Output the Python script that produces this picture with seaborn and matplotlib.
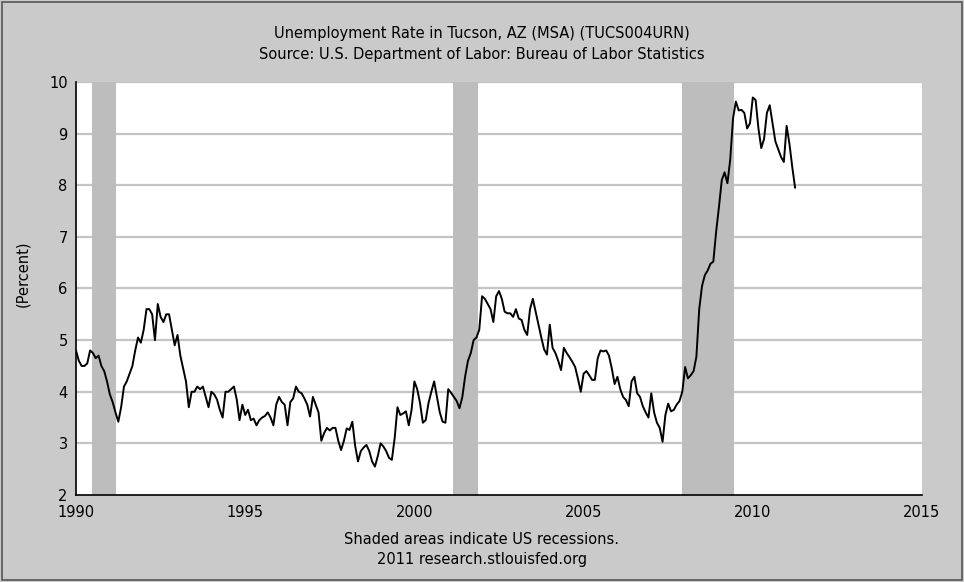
import numpy as np
import pandas as pd
import matplotlib
matplotlib.use("Agg")
import matplotlib.pyplot as plt
import seaborn as sns

# Monthly unemployment rate, Tucson AZ (MSA), Jan 1990 - Apr 2011
rate = [
    # 1990
    4.80, 4.60, 4.50, 4.50, 4.55, 4.80, 4.75, 4.65, 4.70, 4.50, 4.40, 4.20,
    # 1991
    3.95, 3.80, 3.60, 3.42, 3.70, 4.10, 4.20, 4.35, 4.50, 4.80, 5.05, 4.95,
    # 1992
    5.20, 5.60, 5.60, 5.50, 5.00, 5.70, 5.45, 5.35, 5.50, 5.50, 5.20, 4.90,
    # 1993
    5.10, 4.70, 4.45, 4.20, 3.70, 4.00, 4.00, 4.10, 4.05, 4.10, 3.90, 3.70,
    # 1994
    4.00, 3.95, 3.85, 3.65, 3.50, 4.00, 4.00, 4.05, 4.10, 3.85, 3.45, 3.75,
    # 1995
    3.55, 3.65, 3.45, 3.48, 3.35, 3.45, 3.50, 3.53, 3.60, 3.50, 3.35, 3.75,
    # 1996
    3.90, 3.80, 3.75, 3.35, 3.80, 3.87, 4.10, 4.00, 3.97, 3.87, 3.75, 3.52,
    # 1997
    3.90, 3.75, 3.60, 3.05, 3.20, 3.30, 3.25, 3.30, 3.30, 3.05, 2.87, 3.05,
    # 1998
    3.29, 3.26, 3.42, 2.95, 2.65, 2.85, 2.92, 2.97, 2.85, 2.65, 2.55, 2.75,
    # 1999
    3.00, 2.94, 2.85, 2.72, 2.68, 3.10, 3.70, 3.55, 3.58, 3.62, 3.35, 3.65,
    # 2000
    4.20, 4.05, 3.78, 3.40, 3.45, 3.78, 4.00, 4.20, 3.90, 3.60, 3.42, 3.40,
    # 2001
    4.05, 3.98, 3.90, 3.82, 3.68, 3.90, 4.30, 4.60, 4.75, 5.00, 5.05, 5.20,
    # 2002
    5.85, 5.80, 5.70, 5.60, 5.35, 5.85, 5.95, 5.80, 5.55, 5.52, 5.52, 5.45,
    # 2003
    5.60, 5.42, 5.39, 5.20, 5.10, 5.60, 5.80, 5.55, 5.30, 5.05, 4.82, 4.72,
    # 2004
    5.30, 4.85, 4.75, 4.60, 4.42, 4.85, 4.75, 4.67, 4.58, 4.48, 4.25, 4.00,
    # 2005
    4.35, 4.40, 4.32, 4.23, 4.23, 4.65, 4.80, 4.78, 4.80, 4.70, 4.45, 4.15,
    # 2006
    4.29, 4.05, 3.90, 3.84, 3.72, 4.20, 4.29, 3.97, 3.90, 3.72, 3.60, 3.50,
    # 2007
    3.97, 3.60, 3.40, 3.30, 3.03, 3.55, 3.77, 3.62, 3.65, 3.75, 3.82, 4.00,
    # 2008
    4.48, 4.26, 4.32, 4.40, 4.68, 5.60, 6.05, 6.26, 6.35, 6.48, 6.52, 7.10,
    # 2009
    7.58, 8.10, 8.25, 8.04, 8.50, 9.30, 9.62, 9.45, 9.46, 9.40, 9.10, 9.20,
    # 2010
    9.70, 9.65, 9.10, 8.72, 8.90, 9.40, 9.55, 9.20, 8.85, 8.70, 8.55, 8.45,
    # 2011
    9.15, 8.80, 8.35, 7.95,
]

# US recessions (decimal years)
rec_start = [1990.48, 2001.14, 2007.9]
rec_end = [1991.18, 2001.88, 2009.44]

title = "Unemployment Rate in Tucson, AZ (MSA) (TUCS004URN)\nSource: U.S. Department of Labor: Bureau of Labor Statistics"
footer = "Shaded areas indicate US recessions.\n2011 research.stlouisfed.org"

dates = pd.date_range("1990-01-01", periods=len(rate), freq="MS")
df = pd.DataFrame({"year": dates.year + (dates.month - 1) / 12.0, "rate": rate})

sns.set_style("white")
plt.rcParams['font.family'] = ['DejaVu Sans']
plt.rcParams['text.color'] = 'black'

bg = "#cacaca"
fig = plt.figure(figsize=(9.64, 5.82), dpi=100, facecolor=bg)
ax = fig.add_axes([76 / 964, 1 - 495 / 582, (922 - 76) / 964, (495 - 82) / 582])
ax.set_facecolor("white")

for s, e in zip(rec_start, rec_end):
    ax.axvspan(s, e, color="#bdbdbd", lw=0, zorder=1)

for v in range(3, 11):
    ax.axhline(v, color="#c4c4c4", lw=1.6, zorder=0.5)

sns.lineplot(data=df, x="year", y="rate", ax=ax, color="black", lw=1.4, zorder=3)

ax.set_xlim(1990, 2015)
ax.set_ylim(2, 10)
ax.set_xticks(range(1990, 2016, 5))
ax.set_yticks(range(2, 11))
ax.tick_params(direction="in", length=8, width=1, color="black", labelsize=10.5,
               labelcolor="black", pad=6)
ax.tick_params(axis="x", pad=7)
for side in ["top", "right"]:
    ax.spines[side].set_visible(False)
for side in ["left", "bottom"]:
    ax.spines[side].set_color("black")
    ax.spines[side].set_linewidth(1.2)
ax.set_xlabel("")
ax.set_ylabel("")

fig.text(0.5, 0.955, title, ha="center", va="top", fontsize=10.5, linespacing=1.45, color="black")
fig.text(0.5, 0.025, footer, ha="center", va="bottom", fontsize=10.5, linespacing=1.45, color="black")
fig.text(0.024, 0.53, "(Percent)", rotation=90, ha="center", va="center", fontsize=10.5, color="black")

# thin frame around the whole picture
fig.patches.append(plt.Rectangle((0.002, 0.003), 0.996, 0.994, transform=fig.transFigure,
                                 fill=False, edgecolor="#555555", lw=1.2))

fig.savefig("out.png", dpi=100, facecolor=bg)
